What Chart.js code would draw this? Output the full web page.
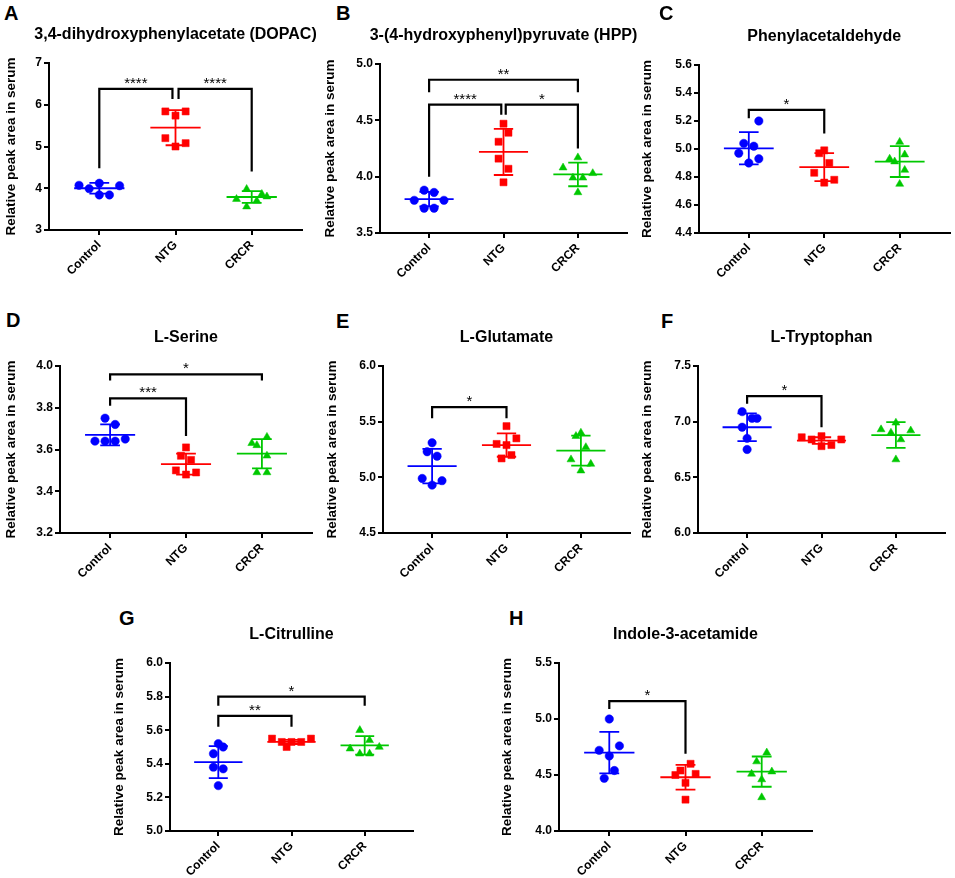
<!DOCTYPE html>
<html><head><meta charset="utf-8">
<script src="https://cdn.jsdelivr.net/npm/chart.js@4.4.1/dist/chart.umd.min.js"></script>
<style>
html,body{margin:0;padding:0;background:#fff;}
body{width:955px;height:878px;position:relative;overflow:hidden;font-family:"Liberation Sans",Arial,sans-serif;}
.letter{position:absolute;font:bold 20px "Liberation Sans",Arial,sans-serif;line-height:1;color:#000;}
</style></head><body>
<script>
// ---------------- DATA ----------------
const CATEGORIES = ['Control', 'NTG', 'CRCR'];
const Y_LABEL = 'Relative peak area in serum';

// Panel A
const A_title = '3,4-dihydroxyphenylacetate (DOPAC)';
const A_yTicks = [3, 4, 5, 6, 7];
const A_control = [4.07, 3.99, 4.12, 4.06, 3.84, 3.84];
const A_ntg = [5.84, 5.84, 5.74, 5.20, 5.08, 5.00];
const A_crcr = [3.98, 3.74, 3.70, 3.86, 3.80, 3.56];
const A_mean = [4.00, 5.45, 3.79];
const A_sd = [0.13, 0.42, 0.14];
const A_brackets = [[0, 0.96, 6.38, 4.48, 6.14, '****'], [1.04, 2, 6.38, 6.14, 4.40, '****']];

// Panel B
const B_title = '3-(4-hydroxyphenyl)pyruvate (HPP)';
const B_yTicks = [3.5, 4.0, 4.5, 5.0];
const B_control = [3.79, 3.88, 3.86, 3.79, 3.72, 3.72];
const B_ntg = [4.47, 4.39, 4.31, 4.16, 4.07, 3.95];
const B_crcr = [4.17, 4.08, 3.99, 3.99, 4.03, 3.86];
const B_mean = [3.80, 4.22, 4.02];
const B_sd = [0.065, 0.205, 0.105];
const B_brackets = [[0, 2, 4.86, 4.75, 4.75, '**'], [0, 0.97, 4.64, 4.00, 4.55, '****'], [1.03, 2, 4.64, 4.55, 4.25, '*']];

// Panel C
const C_title = 'Phenylacetaldehyde';
const C_yTicks = [4.4, 4.6, 4.8, 5.0, 5.2, 5.4, 5.6];
const C_control = [5.20, 5.04, 5.02, 4.97, 4.93, 4.90];
const C_ntg = [4.97, 4.99, 4.90, 4.83, 4.78, 4.76];
const C_crcr = [5.05, 4.93, 4.91, 4.96, 4.85, 4.75];
const C_mean = [5.005, 4.87, 4.91];
const C_sd = [0.115, 0.10, 0.11];
const C_brackets = [[0, 1, 5.28, 5.22, 5.11, '*']];

// Panel D
const D_title = 'L-Serine';
const D_yTicks = [3.2, 3.4, 3.6, 3.8, 4.0];
const D_control = [3.75, 3.72, 3.64, 3.64, 3.64, 3.65];
const D_ntg = [3.61, 3.57, 3.55, 3.50, 3.49, 3.48];
const D_crcr = [3.66, 3.63, 3.62, 3.57, 3.49, 3.49];
const D_mean = [3.67, 3.53, 3.58];
const D_sd = [0.05, 0.05, 0.07];
const D_brackets = [[0, 2, 3.96, 3.93, 3.93, '*'], [0, 1, 3.845, 3.81, 3.665, '***']];

// Panel E
const E_title = 'L-Glutamate';
const E_yTicks = [4.5, 5.0, 5.5, 6.0];
const E_control = [5.31, 5.23, 5.19, 4.99, 4.97, 4.93];
const E_ntg = [5.46, 5.35, 5.30, 5.29, 5.20, 5.17];
const E_crcr = [5.40, 5.37, 5.27, 5.16, 5.12, 5.06];
const E_mean = [5.10, 5.29, 5.24];
const E_sd = [0.155, 0.105, 0.135];
const E_brackets = [[0, 1, 5.63, 5.53, 5.53, '*']];

// Panel F
const F_title = 'L-Tryptophan';
const F_yTicks = [6.0, 6.5, 7.0, 7.5];
const F_control = [7.09, 7.03, 7.03, 6.95, 6.85, 6.75];
const F_ntg = [6.86, 6.84, 6.87, 6.78, 6.79, 6.84];
const F_crcr = [6.99, 6.93, 6.90, 6.92, 6.84, 6.66];
const F_mean = [6.95, 6.83, 6.88];
const F_sd = [0.125, 0.03, 0.115];
const F_brackets = [[0, 1, 7.23, 7.16, 6.95, '*']];

// Panel G
const G_title = 'L-Citrulline';
const G_yTicks = [5.0, 5.2, 5.4, 5.6, 5.8, 6.0];
const G_control = [5.52, 5.50, 5.46, 5.38, 5.37, 5.27];
const G_ntg = [5.55, 5.55, 5.53, 5.53, 5.53, 5.50];
const G_crcr = [5.60, 5.54, 5.49, 5.50, 5.46, 5.46];
const G_mean = [5.41, 5.53, 5.51];
const G_sd = [0.095, 0.012, 0.055];
const G_brackets = [[0, 2, 5.80, 5.745, 5.745, '*'], [0, 1, 5.685, 5.62, 5.62, '**']];

// Panel H
const H_title = 'Indole-3-acetamide';
const H_yTicks = [4.0, 4.5, 5.0, 5.5];
const H_control = [5.00, 4.72, 4.76, 4.67, 4.54, 4.47];
const H_ntg = [4.60, 4.54, 4.50, 4.51, 4.43, 4.28];
const H_crcr = [4.70, 4.62, 4.51, 4.53, 4.46, 4.30];
const H_mean = [4.70, 4.48, 4.53];
const H_sd = [0.185, 0.11, 0.135];
const H_brackets = [[0, 1, 5.16, 5.09, 4.69, '*']];

// ---------------- STYLE / LAYOUT ----------------
// horizontal scatter offsets of the dots (in dot steps), per panel and group
const JITTER = {
  A: [[-2, -1, 0, 2, 0, 1], [-1, 1, 0, -1, 1, 0], [-0.5, -1.5, 0.5, 1, 1.5, -0.5]],
  B: [[-1.5, -0.5, 0.5, 1.5, -0.5, 0.5], [0, 0.5, -0.5, -0.5, 0.5, 0], [0, -1.5, -0.5, 0.5, 1.5, 0]],
  C: [[1, -0.5, 0.5, -1, 1, 0], [-0.5, 0, 0.5, -1, 1, 0], [0, -1, -0.5, 0.5, 0.5, 0]],
  D: [[-0.5, 0.5, -1.5, -0.5, 0.5, 1.5], [0, -0.5, 0.5, -1, 1, 0], [0.5, -1, -0.5, 0.5, -0.5, 0.5]],
  E: [[0, -0.5, 0.5, -1, 1, 0], [0, 1, -1, 0, 0.5, -0.5], [0, -0.5, 0.5, -1, 1, 0]],
  F: [[-0.5, 0.5, 1, -0.5, 0, 0], [-2, -1, 0, 0, 1, 2], [0, -1.5, -0.5, 1.5, 0.5, 0]],
  G: [[0, 0.5, -0.5, -0.5, 0.5, 0], [-2, 2, -1, 0, 1, -0.5], [-0.5, 0.5, -1.5, 1.5, -0.5, 0.5]],
  H: [[0, -1, 1, 0, 0.5, -0.5], [0.5, -0.5, -1, 1, 0, 0], [0.5, -0.5, -1, 1, 0, 0]]
};
const LAYOUT = {
  A: {box: [0, 0, 325, 290], area: [49, 63, 302, 230], letter: [5, 6]},
  B: {box: [319, 0, 330, 290], area: [380, 64, 627, 233], letter: [337, 6]},
  C: {box: [636, 0, 319, 290], area: [699, 65, 952, 233], letter: [660, 6]},
  D: {box: [0, 290, 318, 295], area: [60, 366, 312, 533], letter: [7, 313]},
  E: {box: [321, 290, 315, 295], area: [383, 366, 630, 533], letter: [337, 314]},
  F: {box: [636, 290, 319, 295], area: [698, 366, 945, 533], letter: [662, 314]},
  G: {box: [108, 590, 335, 288], area: [170, 663, 413, 831], letter: [120, 611]},
  H: {box: [496, 590, 359, 288], area: [559, 663, 812, 831], letter: [510, 611]}
};
const JIT_STEP = 0.133;
const MEAN_HW = 0.33, CAP_HW = 0.13;
const X_RANGE = [-0.66, 2.66];
const TITLE_GAP = 28;
const COLORS = ['#0000FF', '#FF0000', '#00C800'];
const STYLES = ['circle', 'rect', 'triangle'];
const RADII = [4.2, 5.0, 4.6];
const FONT = '"Liberation Sans", Arial, sans-serif';
Chart.defaults.font.family = FONT;
Chart.defaults.color = '#000';

const PANELS = {
  A: {title: A_title, yTicks: A_yTicks, groups: [A_control, A_ntg, A_crcr], mean: A_mean, sd: A_sd, brackets: A_brackets},
  B: {title: B_title, yTicks: B_yTicks, groups: [B_control, B_ntg, B_crcr], mean: B_mean, sd: B_sd, brackets: B_brackets},
  C: {title: C_title, yTicks: C_yTicks, groups: [C_control, C_ntg, C_crcr], mean: C_mean, sd: C_sd, brackets: C_brackets},
  D: {title: D_title, yTicks: D_yTicks, groups: [D_control, D_ntg, D_crcr], mean: D_mean, sd: D_sd, brackets: D_brackets},
  E: {title: E_title, yTicks: E_yTicks, groups: [E_control, E_ntg, E_crcr], mean: E_mean, sd: E_sd, brackets: E_brackets},
  F: {title: F_title, yTicks: F_yTicks, groups: [F_control, F_ntg, F_crcr], mean: F_mean, sd: F_sd, brackets: F_brackets},
  G: {title: G_title, yTicks: G_yTicks, groups: [G_control, G_ntg, G_crcr], mean: G_mean, sd: G_sd, brackets: G_brackets},
  H: {title: H_title, yTicks: H_yTicks, groups: [H_control, H_ntg, H_crcr], mean: H_mean, sd: H_sd, brackets: H_brackets}
};

function makePanel(id) {
  const cfg = PANELS[id], lay = LAYOUT[id], jit = JITTER[id];
  const [bl, bt, bw, bh] = lay.box;
  const [L, T, R, B] = lay.area;

  const letter = document.createElement('div');
  letter.className = 'letter';
  letter.textContent = id;
  letter.style.left = (lay.letter[0] - 1) + 'px';
  letter.style.top = (lay.letter[1] - 3) + 'px';
  document.body.appendChild(letter);

  const canvas = document.createElement('canvas');
  canvas.width = bw; canvas.height = bh;
  canvas.style.cssText = `position:absolute;left:${bl}px;top:${bt}px;width:${bw}px;height:${bh}px`;
  document.body.appendChild(canvas);

  const dec = cfg.yTicks.some(v => !Number.isInteger(v)) ? 1 : 0;
  const datasets = [];
  cfg.groups.forEach((vals, g) => {
    datasets.push({
      data: vals.map((v, i) => ({x: g + jit[g][i] * JIT_STEP, y: v})),
      pointStyle: STYLES[g], pointRadius: RADII[g],
      backgroundColor: COLORS[g], borderColor: COLORS[g], pointBorderWidth: 0.5
    });
  });
  cfg.groups.forEach((_, g) => {
    const m = cfg.mean[g], s = cfg.sd[g];
    const gap = {x: g, y: null};
    datasets.push({
      showLine: true, pointRadius: 0, borderColor: COLORS[g], borderWidth: 1.8, spanGaps: false,
      data: [{x: g - MEAN_HW, y: m}, {x: g + MEAN_HW, y: m}, gap,
             {x: g - CAP_HW, y: m + s}, {x: g + CAP_HW, y: m + s}, gap,
             {x: g - CAP_HW, y: m - s}, {x: g + CAP_HW, y: m - s}, gap,
             {x: g, y: m - s}, {x: g, y: m + s}]
    });
  });
  cfg.brackets.forEach(([x0, x1, y, y0, y1]) => {
    datasets.push({
      showLine: true, pointRadius: 0, borderColor: '#000', borderWidth: 2.2,
      borderJoinStyle: 'miter', spanGaps: false,
      data: [{x: x0, y: y0}, {x: x0, y: y}, {x: x1, y: y}, {x: x1, y: y1}]
    });
  });

  const textPlugin = {
    id: 'texts' + id,
    afterDraw(chart) {
      const {ctx, chartArea, scales: {x, y}} = chart;
      ctx.save();
      ctx.fillStyle = '#000';
      ctx.textAlign = 'center';
      // significance stars
      ctx.font = '15px ' + FONT;
      ctx.textBaseline = 'alphabetic';
      cfg.brackets.forEach(([x0, x1, yv, , , label]) => {
        ctx.fillText(label, x.getPixelForValue((x0 + x1) / 2), y.getPixelForValue(yv) - 1);
      });
      // panel title (no width compression)
      ctx.font = 'bold 16px ' + FONT;
      ctx.textBaseline = 'middle';
      ctx.fillText(cfg.title, (chartArea.left + chartArea.right) / 2, chartArea.top - TITLE_GAP);
      ctx.restore();
    }
  };

  new Chart(canvas, {
    type: 'scatter',
    data: {datasets},
    plugins: [textPlugin],
    options: {
      responsive: false, animation: false,
      layout: {padding: {left: 0, bottom: 0, right: bl + bw - R, top: T - bt}},
      plugins: {legend: {display: false}, tooltip: {enabled: false}, title: {display: false}},
      scales: {
        x: {
          type: 'linear', min: X_RANGE[0], max: X_RANGE[1],
          afterBuildTicks: s => { s.ticks = CATEGORIES.map((_, i) => ({value: i})); },
          afterFit: s => { s.height = bt + bh - B; },
          ticks: {callback: (v, i) => CATEGORIES[i], minRotation: 45, maxRotation: 45, padding: 3,
                  color: '#000', font: {size: 12, weight: 'bold'}},
          grid: {display: true, drawOnChartArea: false, drawTicks: true, tickLength: 5, color: '#000', lineWidth: 2},
          border: {display: true, color: '#000', width: 2}
        },
        y: {
          type: 'linear', min: cfg.yTicks[0], max: cfg.yTicks[cfg.yTicks.length - 1],
          afterBuildTicks: s => { s.ticks = cfg.yTicks.map(v => ({value: v})); },
          afterFit: s => { s.width = L - bl; },
          ticks: {callback: v => Number(v).toFixed(dec), padding: 2, color: '#000', font: {size: 12, weight: 'bold'}},
          grid: {display: true, drawOnChartArea: false, drawTicks: true, tickLength: 5, color: '#000', lineWidth: 2},
          border: {display: true, color: '#000', width: 2},
          title: {display: true, text: Y_LABEL, color: '#000', font: {size: 13.5, weight: 'bold', lineHeight: 1.2}, padding: {top: 3, bottom: 0}}
        }
      }
    }
  });
}
['A', 'B', 'C', 'D', 'E', 'F', 'G', 'H'].forEach(makePanel);
</script>
</body></html>
